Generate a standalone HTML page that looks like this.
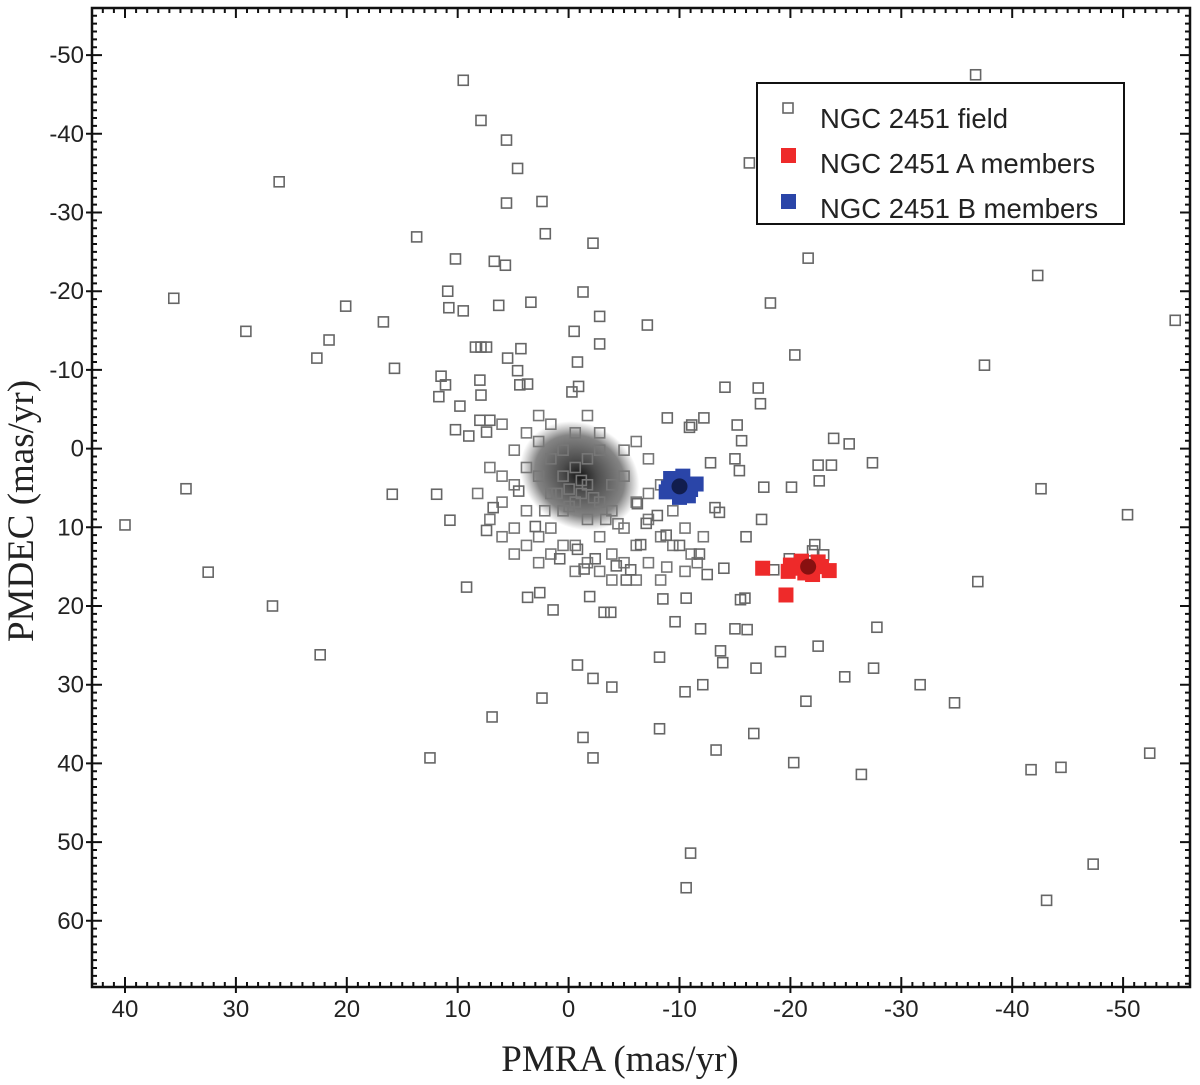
<!DOCTYPE html>
<html><head><meta charset="utf-8"><style>
html,body{margin:0;padding:0;background:#fff;}
svg{display:block;}
</style></head><body>
<svg id="chart" width="1200" height="1085" xmlns="http://www.w3.org/2000/svg" font-family="Liberation Sans, Arial, sans-serif">
<g id="ticks"></g>
<g id="field"></g>
<g id="memB"></g>
<g id="memA"></g>
<rect x="92" y="8" width="1098" height="979" fill="none" stroke="#111" stroke-width="2.5"/>
<g id="labels" font-size="24" fill="#222"></g>
<text x="620" y="1071" text-anchor="middle" font-family="Liberation Serif, serif" font-size="37" fill="#222">PMRA (mas/yr)</text>
<text transform="translate(33,511) rotate(-90)" text-anchor="middle" font-family="Liberation Serif, serif" font-size="37" fill="#222">PMDEC (mas/yr)</text>
<g>
<rect x="757" y="83" width="367" height="141" fill="#fff" stroke="#111" stroke-width="2"/>
<rect x="783" y="103" width="10" height="10" fill="#fff" stroke="#666" stroke-width="1.6"/>
<text x="820" y="128" font-size="27.5" fill="#222">NGC 2451 field</text>
<rect x="781" y="148" width="15" height="15" fill="#ee2a2a"/>
<text x="820" y="173" font-size="27.5" fill="#222">NGC 2451 A members</text>
<rect x="781" y="194" width="15" height="15" fill="#2a45a8"/>
<text x="820" y="218" font-size="27.5" fill="#222">NGC 2451 B members</text>
</g>
</svg>
<script>
const xTicks=[40,30,20,10,0,-10,-20,-30,-40,-50];
const yTicks=[-50,-40,-30,-20,-10,0,10,20,30,40,50,60];
const fieldPts=[[9.5,-46.8],[-36.7,-47.5],[7.9,-41.7],[5.6,-39.2],[4.6,-35.6],[26.1,-33.9],[-16.3,-36.3],[5.6,-31.2],[2.4,-31.4],[2.1,-27.3],[13.7,-26.9],[-2.2,-26.1],[10.2,-24.1],[6.7,-23.8],[5.7,-23.3],[-21.6,-24.2],[-42.3,-22.0],[35.6,-19.1],[10.9,-20.0],[-1.3,-19.9],[20.1,-18.1],[10.8,-17.9],[9.5,-17.5],[6.3,-18.2],[3.4,-18.6],[-18.2,-18.5],[16.7,-16.1],[-7.1,-15.7],[-2.8,-16.8],[-0.5,-14.9],[-54.7,-16.3],[29.1,-14.9],[21.6,-13.8],[22.7,-11.5],[15.7,-10.2],[-2.8,-13.3],[-20.4,-11.9],[-37.5,-10.6],[8.4,-12.9],[7.9,-12.9],[7.4,-12.9],[5.5,-11.5],[4.3,-12.7],[11.5,-9.2],[11.1,-8.1],[11.7,-6.6],[8,-8.7],[7.9,-6.8],[4.6,-9.9],[4.4,-8.1],[3.7,-8.2],[-0.8,-11],[-0.9,-7.9],[-0.3,-7.2],[-14.1,-7.8],[-17.1,-7.7],[9.8,-5.4],[10.2,-2.4],[9.0,-1.6],[7.4,-2.1],[8,-3.6],[7.1,-3.6],[-8.9,-3.9],[-10.9,-2.7],[-11.1,-3.0],[-12.2,-3.9],[-15.2,-3.0],[-17.3,-5.7],[-15.6,-1.0],[-23.9,-1.3],[-25.3,-0.6],[-12.8,1.8],[-15.0,1.3],[-15.4,2.8],[-22.5,2.1],[-23.7,2.1],[-22.6,4.1],[-27.4,1.8],[15.9,5.8],[34.5,5.1],[40.0,9.7],[11.9,5.8],[10.7,9.1],[-17.6,4.9],[-20.1,4.9],[-42.6,5.1],[-50.4,8.4],[7.4,10.4],[4.5,5.4],[6.8,7.5],[3.0,9.9],[32.5,15.7],[26.7,20.0],[22.4,26.2],[9.2,17.6],[3.7,18.9],[1.4,20.5],[2.6,18.3],[-0.8,27.5],[-2.2,29.2],[-3.9,30.3],[2.4,31.7],[-1.3,36.7],[-2.2,39.3],[12.5,39.3],[6.9,34.1],[-3.2,20.8],[-3.8,20.8],[-8.5,19.1],[-10.6,19.0],[-8.2,26.5],[-9.6,22.0],[-10.5,30.9],[-12.1,30.0],[-13.3,38.3],[-11.9,22.9],[-13.7,25.7],[-13.9,27.2],[-15.0,22.9],[-15.5,19.2],[-15.9,19.0],[-16.1,23.0],[-16.9,27.9],[-18.5,15.4],[-19.1,25.8],[-21.4,32.1],[-20.3,39.9],[-22.5,25.1],[-24.9,29.0],[-27.5,27.9],[-27.8,22.7],[-31.7,30.0],[-34.8,32.3],[-36.9,16.9],[-41.7,40.8],[-44.4,40.5],[-43.1,57.4],[-47.3,52.8],[-52.4,38.7],[-11.0,51.4],[-10.6,55.8],[-26.4,41.4],[-8.2,35.6],[-16.7,36.2],
[-1.4,15.3],[-1.9,18.8],[-4.3,14.9],[-5.2,16.7],[-2.4,14.0],[-10.0,12.3],[-11.8,13.4],[-6.5,12.2],[-16.0,11.2],[-17.4,9.0],[-13.2,7.5],[-13.6,8.1],[-19.9,14.0],[-22.2,12.2],[-5.6,15.4],[0.8,14.0],[-0.8,12.8],[-22.0,13.0],[-23.0,13.5],[-20.8,14.5],[-12.5,16.0],[-14.0,15.2],[-7.0,9.5],[-8.0,8.5],[-6.2,7.0],[-8.8,11.0]];
const corePts=[[0,0],[1,1],[-1,2],[2,3],[-2,4],[0,4],[1,5],[-3,5],[-1,6],[2,7],[-2,8],[0,9],[-4,7],[-3,2],[3,1],[2,-1],[4,0],[-1,-1],[1,-2],[3,-3],[-2,-2],[5,2],[4,5],[-5,4],[-4,1],[6,1],[-6,6],[-5,9],[-3,10],[-1,11],[1,9],[3,8],[5,7],[6,4],[7,0],[-4,-2],[-2,-4],[0,-4],[2,-5],[4,-4],[-6,3],[-7,8],[-8,5],[-7,2],[3,11],[0,12],[-2,12],[-4,11],[-6,11],[-8,9],[5,-2],[6,-5],[3,-6],[-1,-6],[-5,-3],[-9,7],[-6,-1],[8,3],[7,6],[2,10],[-0.5,3],[0.5,2.5],[-1.5,3.5],[1.5,3],[-0.5,1.5],[0.5,4.5],[-2.5,6],[2.5,5],[-3.5,6.5],[-9.5,10],[-10.5,8],[-7.5,11.5],[-3,13],[-5,13],[-7,13],[-9,12],[-10,11],[4,9],[5,10],[6,8]];
const coreCenter=[-0.6,2.4];
const memB=[[-10,4.8],[-9,5],[-11,5.2],[-10.3,3.5],[-9.5,4.2],[-10.8,6],[-8.8,5.5],[-11.5,4.5],[-10,6.2],[-9.2,3.8]];
const memA=[[-21.6,15],[-20.5,15.2],[-22.8,15],[-21,14.3],[-22,16],[-23.5,15.5],[-20,14.8],[-21.3,15.8],[-19.8,15.6],[-17.5,15.2],[-19.6,18.6],[-22.5,14.4]];

const NS='http://www.w3.org/2000/svg';
const X0=92,X1=1190,Y0=8,Y1=987;
function sx(v){return 568.6-v*11.09;}
function sy(v){return 448.6+v*7.87;}
function mk(tag,attrs,parent){const e=document.createElementNS(NS,tag);for(const k in attrs)e.setAttribute(k,attrs[k]);parent.appendChild(e);return e;}
const tg=document.getElementById('ticks');
let d='';
for(let v=42;v>=-56;v--){const x=sx(v);if(x<X0+1||x>X1-1)continue;const L=(v%10===0)?10:5;d+=`M${x},${Y1}v${-L}M${x},${Y0}v${L}`;}
for(let v=-55;v<=68;v++){const y=sy(v);if(y<Y0+1||y>Y1-1)continue;const L=(v%10===0)?10:5;d+=`M${X0},${y}h${L}M${X1},${y}h${-L}`;}
for(const v of xTicks){d+=`M${sx(v)},${Y1}v6`;}
for(const v of yTicks){d+=`M${X0},${sy(v)}h-6`;}
const tp=mk('path',{d:d,stroke:'#111','stroke-width':2,fill:'none'},tg);


const lg=document.getElementById('labels');
for(const v of xTicks){const t=mk('text',{x:sx(v),y:1017,'text-anchor':'middle'},lg);t.textContent=String(v);

}
for(const v of yTicks){const t=mk('text',{x:84,y:sy(v)+8,'text-anchor':'end'},lg);t.textContent=String(v);

}
const fg=document.getElementById('field');
const defs=mk('defs',{},document.getElementById('chart'));
const rg=mk('radialGradient',{id:'coreg'},defs);
mk('stop',{offset:'0','stop-color':'#151515','stop-opacity':'1'},rg);
mk('stop',{offset:'0.3','stop-color':'#444','stop-opacity':'0.95'},rg);
mk('stop',{offset:'0.75','stop-color':'#777','stop-opacity':'0.9'},rg);
mk('stop',{offset:'1','stop-color':'#888','stop-opacity':'0'},rg);
const cx=sx(coreCenter[0]),cy=sy(coreCenter[1]);
const core=mk('ellipse',{cx:cx+8,cy:cy+5,rx:62,ry:52,fill:'url(#coreg)',transform:`rotate(30 ${cx} ${cy})`},fg);


function sq(p,g,s,style,name){const r=mk('rect',Object.assign({x:sx(p[0])-s/2,y:sy(p[1])-s/2,width:s,height:s},style),g);

}
for(const p of corePts)sq([coreCenter[0]+p[0]*1.1,coreCenter[1]+p[1]*1.1],fg,10,{fill:'none',stroke:'#777','stroke-width':1.6},'field-point');
for(const p of fieldPts)sq(p,fg,10,{fill:'none',stroke:'#666','stroke-width':1.6},'field-point');
const bg=document.getElementById('memB');
for(const p of memB)sq(p,bg,15,{fill:'#2a45a8'},'b-member-point');
const dB=mk('circle',{cx:sx(memB[0][0]),cy:sy(memB[0][1]),r:8,fill:'#0a1030',opacity:0.75},bg);


const ag=document.getElementById('memA');
for(const p of memA)sq(p,ag,15,{fill:'#ee2a2a'},'a-member-point');
const dA=mk('circle',{cx:sx(memA[0][0]),cy:sy(memA[0][1]),r:8,fill:'#400',opacity:0.6},ag);


</script>
</body></html>
